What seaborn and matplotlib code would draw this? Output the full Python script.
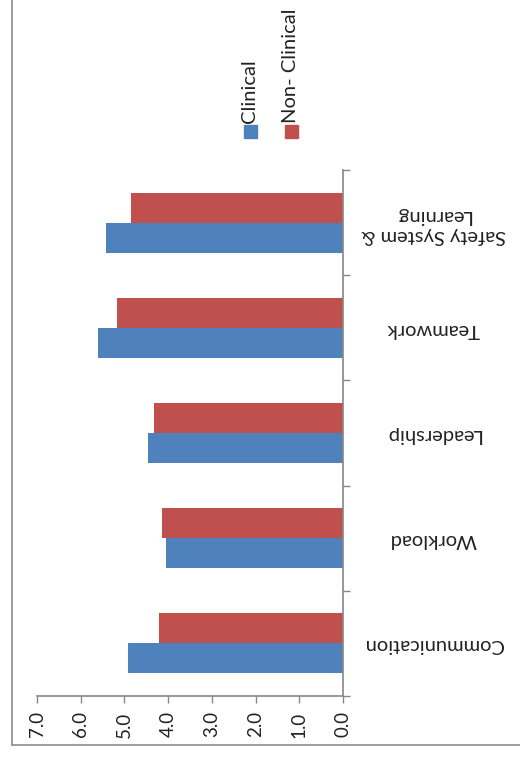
import matplotlib
matplotlib.use("Agg")
import matplotlib.pyplot as plt
from matplotlib.patches import Rectangle
from matplotlib.lines import Line2D
import seaborn as sns
import numpy as np
import pandas as pd

sns.set_style("white")
plt.rcParams['font.family'] = ['Lato', 'DejaVu Sans']

# chart data
categories = ["Communication", "Workload", "Leadership", "Teamwork",
              "Safety System &\nLearning"]
clinical = [4.92, 4.06, 4.45, 5.61, 5.42]
non_clinical = [4.21, 4.13, 4.32, 5.16, 4.84]
series = ["Clinical", "Non- Clinical"]
colors = ["#4F81BD", "#C0504D"]
value_ticks = [0, 1, 2, 3, 4, 5, 6, 7]

df = pd.DataFrame({
    "category": categories * 2,
    "score": clinical + non_clinical,
    "group": [series[0]] * len(categories) + [series[1]] * len(categories),
})

W, H = 520, 760
fig = plt.figure(figsize=(W / 100, H / 100), dpi=100)
ax = fig.add_axes([37 / W, 1 - 696 / H, (343 - 37) / W, (696 - 170) / H])

sns.barplot(data=df, x="score", y="category", hue="group", order=categories,
            hue_order=series, palette=colors, saturation=1, orient="h",
            width=0.57, gap=0, linewidth=0, errorbar=None, legend=False, ax=ax)

# value axis runs right-to-left, categories bottom-to-top
ax.set_xlim(max(value_ticks), 0)
ax.set_ylim(-0.5, len(categories) - 0.5)
ax.set_xlabel("")
ax.set_ylabel("")

ax.set_xticks(value_ticks)
ax.set_xticklabels([f"{v:.1f}" for v in value_ticks], rotation=90)
ax.tick_params(axis="x", direction="out", length=5, width=1, color="#868686",
               pad=6, labelsize=13.5, labelcolor="#222222", bottom=True)

ax.yaxis.tick_right()
ax.set_yticks(np.arange(-0.5, len(categories)), labels=[""] * (len(categories) + 1))
ax.set_yticks(np.arange(len(categories)), minor=True)
ax.set_yticklabels(categories, minor=True, rotation=180, ha="center",
                   multialignment="center")
ax.tick_params(axis="y", which="major", direction="out", length=5, width=1,
               color="#868686", right=True, left=False)
ax.tick_params(axis="y", which="minor", length=0, right=True, left=False,
               labelright=True, labelleft=False, pad=65, labelsize=14.5,
               labelcolor="#222222")

for side in ["left", "top"]:
    ax.spines[side].set_visible(False)
for side in ["right", "bottom"]:
    ax.spines[side].set_color("#868686")
    ax.spines[side].set_linewidth(1.2)

# legend, rotated like the rest of the chart
leg_x = [250, 291]
for name, col, lx in zip(series, colors, leg_x):
    fig.patches.append(Rectangle(((lx - 6.5) / W, 1 - 138 / H), 13 / W, 13 / H,
                                 transform=fig.transFigure, color=col))
    fig.text(lx / W, 1 - 123 / H, name, rotation=90, ha="center", va="bottom",
             fontsize=14.5, color="#222222")

# outer chart frame
fig.add_artist(Line2D([12 / W, 12 / W], [1 - 745 / H, 1.0], transform=fig.transFigure,
                      color="#8c8c8c", linewidth=1.2))
fig.add_artist(Line2D([12 / W, 1.0], [1 - 745 / H, 1 - 745 / H], transform=fig.transFigure,
                      color="#8c8c8c", linewidth=1.2))

fig.savefig("out.png", dpi=100)
